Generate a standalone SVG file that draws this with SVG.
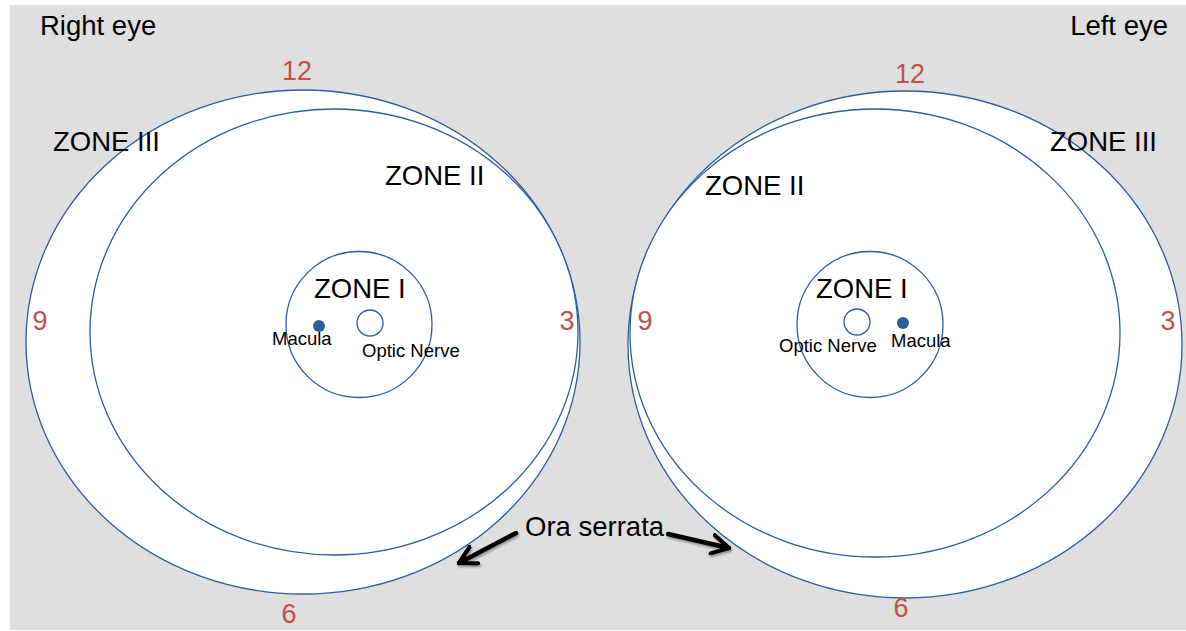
<svg xmlns="http://www.w3.org/2000/svg" width="1186" height="631" viewBox="0 0 1186 631">
  <defs>
    <marker id="arrowhead" viewBox="0 0 12 12" refX="10" refY="6" markerWidth="5" markerHeight="5" orient="auto" markerUnits="strokeWidth">
      <path d="M1,1 L10,6 L1,11" fill="none" stroke="#000" stroke-width="2.2" stroke-linecap="round" stroke-linejoin="round"/>
    </marker>
    <filter id="shadow" x="-20%" y="-20%" width="140%" height="140%">
      <feDropShadow dx="1" dy="2" stdDeviation="1.2" flood-color="#000" flood-opacity="0.35"/>
    </filter>
  </defs>
  <style>
    .ring { fill: #ffffff; stroke: #2d5e99; stroke-width: 1.3; }
    .nerve { fill: #ffffff; stroke: #2d5e99; stroke-width: 1.3; }
    .macula { fill: #2d5e99; }
    .lbl { font-family: "Liberation Sans", Arial, sans-serif; fill: #000; }
    .big { font-size: 27.5px; }
    .small { font-size: 18.5px; }
    .clock { font-family: "Liberation Sans", Arial, sans-serif; font-size: 27px; fill: #c0504d; }
    .pointer { fill: none; stroke: #000; stroke-width: 4.5; stroke-linecap: round; }
  </style>

  <rect x="0" y="0" width="1186" height="631" fill="#ffffff"/>
  <rect x="10" y="5" width="1176" height="625" fill="#dfdfdf"/>

  <text class="lbl big" x="40" y="35">Right eye</text>
  <text class="lbl big" x="1168" y="35" text-anchor="end">Left eye</text>

  <!-- Right eye -->
  <g id="right-eye">
    <ellipse id="right-zone3" class="ring" cx="303" cy="342" rx="277" ry="252"/>
    <ellipse id="right-zone2" class="ring" cx="334" cy="332" rx="244" ry="223"/>
    <circle id="right-zone1" class="ring" cx="359" cy="324.5" r="73"/>
    <circle id="right-optic-nerve" class="nerve" cx="370" cy="323" r="13"/>
    <circle id="right-macula" class="macula" cx="319" cy="326" r="6"/>
    <text class="lbl big" x="53" y="151">ZONE III</text>
    <text class="lbl big" x="385" y="185">ZONE II</text>
    <text class="lbl big" x="314" y="298">ZONE I</text>
    <text class="lbl small" x="272" y="345">Macula</text>
    <text class="lbl small" x="362" y="357">Optic Nerve</text>
    <text class="clock" x="297" y="80" text-anchor="middle">12</text>
    <text class="clock" x="40" y="330" text-anchor="middle">9</text>
    <text class="clock" x="567" y="330" text-anchor="middle">3</text>
    <text class="clock" x="289" y="623" text-anchor="middle">6</text>
  </g>

  <!-- Left eye -->
  <g id="left-eye">
    <ellipse id="left-zone3" class="ring" cx="905" cy="344.5" rx="277" ry="253.5"/>
    <ellipse id="left-zone2" class="ring" cx="875" cy="333" rx="245" ry="224"/>
    <circle id="left-zone1" class="ring" cx="870" cy="324.5" r="73"/>
    <circle id="left-optic-nerve" class="nerve" cx="857" cy="322" r="13"/>
    <circle id="left-macula" class="macula" cx="903" cy="323" r="6"/>
    <text class="lbl big" x="1050" y="151">ZONE III</text>
    <text class="lbl big" x="705" y="195">ZONE II</text>
    <text class="lbl big" x="816" y="298">ZONE I</text>
    <text class="lbl small" x="779" y="352">Optic Nerve</text>
    <text class="lbl small" x="891" y="347">Macula</text>
    <text class="clock" x="910" y="83" text-anchor="middle">12</text>
    <text class="clock" x="645" y="330" text-anchor="middle">9</text>
    <text class="clock" x="1168" y="330" text-anchor="middle">3</text>
    <text class="clock" x="901" y="617" text-anchor="middle">6</text>
  </g>

  <!-- Ora serrata callout -->
  <g id="ora-serrata">
    <text class="lbl big" x="525" y="536">Ora serrata</text>
  </g>
  <g id="connectors" filter="url(#shadow)">
    <line class="pointer" x1="516" y1="533" x2="459" y2="563" marker-end="url(#arrowhead)"/>
    <line class="pointer" x1="668" y1="534" x2="729" y2="548" marker-end="url(#arrowhead)"/>
  </g>
</svg>
